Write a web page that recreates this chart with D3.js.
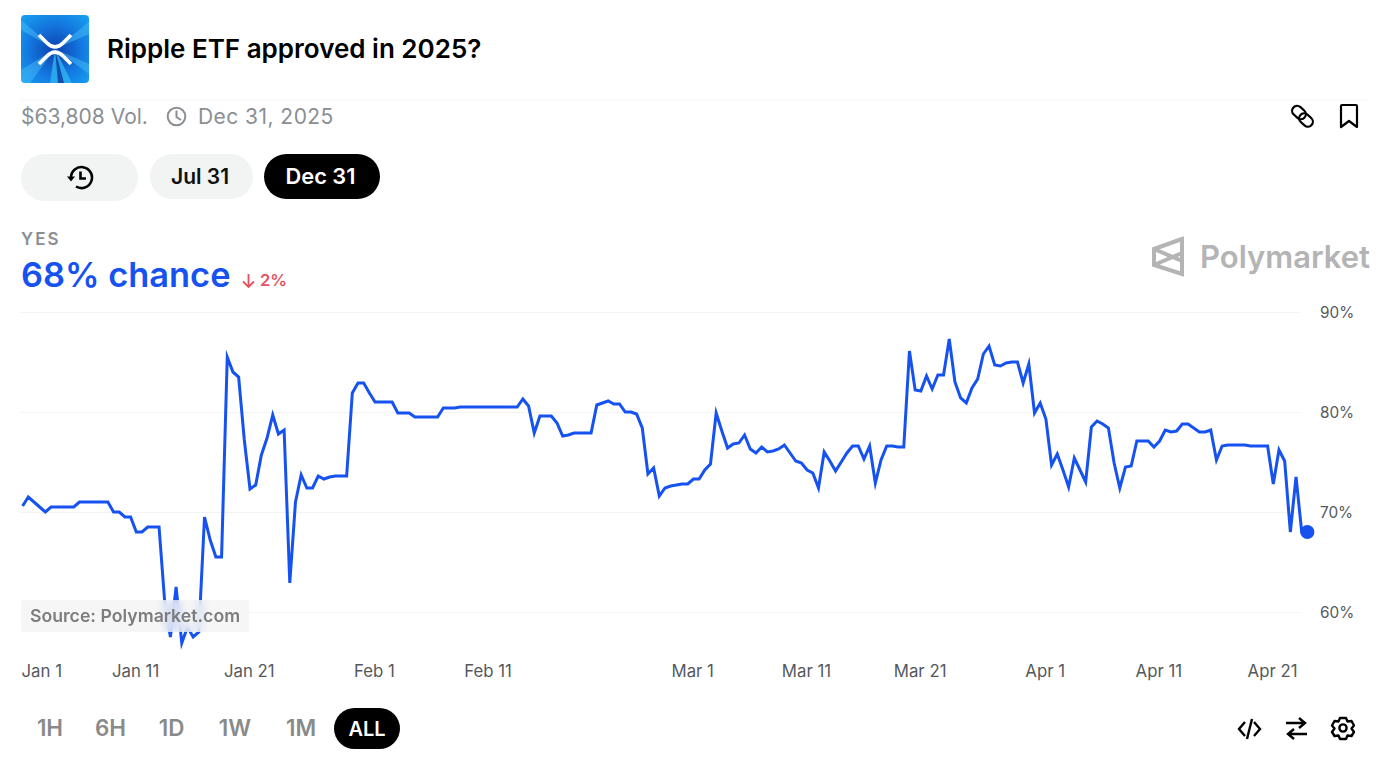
<!DOCTYPE html>
<html>
<head>
<meta charset="utf-8">
<title>Ripple ETF approved in 2025?</title>
<script src="https://cdn.jsdelivr.net/npm/d3@7"></script>
<style>
  html, body { margin: 0; padding: 0; background: #fff; overflow: hidden; }
  #chartDiv { position: relative; width: 1400px; height: 760px; font-family: Inter, sans-serif; }
  svg { position: absolute; left: 0; top: 0; }
  svg text { font-family: Inter, sans-serif; }
  #source {
    position: absolute; left: 21px; top: 600px; width: 228px; height: 32px; line-height: 32px;
    border-radius: 3px; background: rgba(243,243,243,0.72);
    -webkit-backdrop-filter: blur(4px); backdrop-filter: blur(4px);
    color: #7d7d7d; font-size: 17.7px; font-weight: 600; text-align: center; white-space: nowrap;
  }
</style>
</head>
<body>
<div id="chartDiv"></div>
<script>
// Values, one every 12 hours starting Jan 1
var startDate = '2025-01-01';
var chance = [
  70.6, 71.5, 71.0, 70.5, 70.0, 70.5, 70.5, 70.5, 70.5, 70.5,
  71.0, 71.0, 71.0, 71.0, 71.0, 71.0, 70.0, 70.0, 69.5, 69.5,
  68.0, 68.0, 68.5, 68.5, 68.5, 61.0, 57.5, 62.5, 56.9, 58.5,
  57.5, 58.0, 69.5, 67.2, 65.5, 65.5, 85.5, 84.0, 83.5, 77.2,
  72.3, 72.7, 75.7, 77.4, 79.7, 77.8, 78.2, 62.9, 71.0, 73.7,
  72.4, 72.4, 73.6, 73.3, 73.5, 73.6, 73.6, 73.6, 81.9, 82.9,
  82.9, 81.9, 81.0, 81.0, 81.0, 81.0, 79.9, 79.9, 79.9, 79.5,
  79.5, 79.5, 79.5, 79.5, 80.4, 80.4, 80.4, 80.5, 80.5, 80.5,
  80.5, 80.5, 80.5, 80.5, 80.5, 80.5, 80.5, 80.5, 81.3, 80.6,
  77.9, 79.6, 79.6, 79.6, 78.9, 77.6, 77.7, 77.9, 77.9, 77.9,
  77.9, 80.7, 80.9, 81.1, 80.8, 80.8, 80.0, 80.0, 79.8, 78.4,
  73.8, 74.4, 71.6, 72.4, 72.6, 72.7, 72.8, 72.8, 73.3, 73.3,
  74.2, 74.8, 79.9, 78.1, 76.4, 76.8, 76.9, 77.7, 76.3, 75.9,
  76.5, 76.0, 76.1, 76.3, 76.7, 75.9, 75.1, 74.9, 74.2, 73.9,
  72.4, 76.0, 75.1, 74.1, 75.0, 75.9, 76.6, 76.6, 75.3, 76.6,
  72.9, 75.2, 76.6, 76.6, 76.5, 76.5, 86.1, 82.2, 82.1, 83.6,
  82.3, 83.7, 83.7, 87.3, 83.0, 81.4, 80.9, 82.4, 83.3, 85.8,
  86.6, 84.7, 84.6, 84.9, 85.0, 85.0, 82.9, 84.8, 79.9, 80.9,
  79.3, 74.7, 75.8, 74.2, 72.5, 75.4, 74.2, 73.0, 78.5, 79.1,
  78.8, 78.4, 74.9, 72.4, 74.5, 74.6, 77.1, 77.1, 77.1, 76.5,
  77.1, 78.2, 78.0, 78.1, 78.8, 78.8, 78.4, 78.0, 78.0, 78.2,
  75.2, 76.6, 76.7, 76.7, 76.7, 76.7, 76.6, 76.6, 76.6, 76.6,
  72.8, 76.2, 75.1, 68.0, 73.5, 68.0, 68.0
];
var yTicks = [60, 70, 80, 90];
var xTickDates = ['2025-01-01', '2025-01-11', '2025-01-21', '2025-02-01', '2025-02-11',
                  '2025-03-01', '2025-03-11', '2025-03-21', '2025-04-01', '2025-04-11', '2025-04-21'];
var rangeLabels = ['1H', '6H', '1D', '1W', '1M', 'ALL'];
var rangeCenters = [50, 110.5, 171.5, 235, 301, 367];

var blue = '#1652f0';
var gray = '#8a8f94';
var parseDay = d3.utcParse('%Y-%m-%d');
var start = parseDay(startDate);
var dataset = chance.map(function(v, i) {
  return { date: d3.utcHour.offset(start, i * 12), value: v };
});

var chart = d3.select('#chartDiv');
var svg = chart.append('svg').attr('width', 1400).attr('height', 760);
var defs = svg.append('defs');

// Scales
var x = d3.scaleUtc()
  .domain([start, dataset[dataset.length - 1].date])
  .range([22.6, 1307.4]);
var y = d3.scaleLinear().domain([60, 90]).range([612, 312]);

// Header icon
var grad = defs.append('radialGradient').attr('id', 'iconBg')
  .attr('cx', '50%').attr('cy', '52%').attr('r', '72%');
grad.append('stop').attr('offset', '0%').attr('stop-color', '#0d3fae');
grad.append('stop').attr('offset', '55%').attr('stop-color', '#1379e0');
grad.append('stop').attr('offset', '100%').attr('stop-color', '#17a3f2');
defs.append('clipPath').attr('id', 'iconClip').append('rect')
  .attr('x', 21).attr('y', 15).attr('width', 68).attr('height', 68).attr('rx', 4);
var icon = svg.append('g').attr('clip-path', 'url(#iconClip)');
icon.append('rect').attr('x', 21).attr('y', 15).attr('width', 68).attr('height', 68).attr('fill', 'url(#iconBg)');
icon.append('path').attr('d', 'M55 49L21 30V20ZM55 49L89 22V34ZM55 49L89 64V74ZM55 49L30 83H21V70Z')
  .attr('fill', '#4cc3fa').attr('opacity', 0.45);
icon.append('path').attr('d', 'M55 49L50 83H72Z').attr('fill', '#2fb4f0').attr('opacity', 0.8);
icon.append('path').attr('d', 'M55 49L58 83H64Z').attr('fill', '#0c3a9e').attr('opacity', 0.8);
icon.append('path')
  .attr('d', 'M39 35L47 43Q55 51 63 43L71 35M39 64L47 56Q55 48 63 56L71 64')
  .attr('fill', 'none').attr('stroke', '#fff').attr('stroke-width', 3.6);

// Header text
svg.append('text').attr('x', 107).attr('y', 58)
  .attr('font-size', 26).attr('font-weight', 600).attr('fill', '#000')
  .text('Ripple ETF approved in 2025?');
svg.append('line').attr('x1', 21).attr('x2', 1369).attr('y1', 100).attr('y2', 100)
  .attr('stroke', '#f4f4f4');
svg.append('text').attr('x', 21).attr('y', 124).attr('font-size', 21).attr('fill', gray)
  .text('$63,808 Vol.');
svg.append('circle').attr('cx', 176.5).attr('cy', 116.5).attr('r', 8.8)
  .attr('fill', 'none').attr('stroke', gray).attr('stroke-width', 2);
svg.append('path').attr('d', 'M176.5 110.5V117L181 120').attr('fill', 'none')
  .attr('stroke', gray).attr('stroke-width', 2);
svg.append('text').attr('x', 198).attr('y', 124).attr('font-size', 21).attr('letter-spacing', 0.45).attr('fill', gray)
  .text('Dec 31, 2025');

// Link and bookmark icons
svg.append('g').attr('fill', 'none').attr('stroke', '#000').attr('stroke-width', 2.2)
  .attr('stroke-linejoin', 'round')
  .call(function(g) {
    g.append('rect').attr('x', 1291.5).attr('y', 107.5).attr('width', 15).attr('height', 10).attr('rx', 5)
      .attr('transform', 'rotate(42 1299 112.5)');
    g.append('rect').attr('x', 1298.5).attr('y', 115).attr('width', 15).attr('height', 10).attr('rx', 5)
      .attr('transform', 'rotate(42 1306 120)');
    g.append('path').attr('d', 'M1341 106Q1341 105 1342 105H1356Q1357 105 1357 106V127L1349 121L1341 127Z');
  });

// Pills
var pills = [
  { x: 21, y: 154, w: 117, h: 47, fill: '#f2f3f3', color: '#000', label: '', size: 21 },
  { x: 150, y: 154, w: 103, h: 45, fill: '#f2f3f3', color: '#111', label: 'Jul 31', size: 21 },
  { x: 264, y: 154, w: 116, h: 45, fill: '#000', color: '#fff', label: 'Dec 31', size: 21.8 }
];
svg.selectAll('rect.pill').data(pills).enter().append('rect').attr('class', 'pill')
  .attr('x', function(d) { return d.x; }).attr('y', function(d) { return d.y; })
  .attr('width', function(d) { return d.w; }).attr('height', function(d) { return d.h; })
  .attr('rx', function(d) { return d.h / 2; }).attr('fill', function(d) { return d.fill; });
svg.selectAll('text.pill').data(pills).enter().append('text').attr('class', 'pill')
  .attr('x', function(d) { return d.x + d.w / 2 - 1.5; }).attr('y', 184)
  .attr('text-anchor', 'middle').attr('font-size', function(d) { return d.size; }).attr('font-weight', 600)
  .attr('fill', function(d) { return d.color; })
  .text(function(d) { return d.label; });
svg.append('path')
  .attr('d', 'M71 178A10.5 10.5 0 1 1 76 186.5M80.5 171.5V178.5L86 178.5')
  .attr('fill', 'none').attr('stroke', '#000').attr('stroke-width', 2.6);
svg.append('path').attr('d', 'M67 176.5H75L71 181.5Z').attr('fill', '#000');

// Probability heading
svg.append('text').attr('x', 21).attr('y', 245).attr('font-size', 17).attr('font-weight', 600)
  .attr('letter-spacing', 2).attr('fill', gray).text('YES');
svg.append('text').attr('x', 21).attr('y', 287).attr('font-size', 34.4).attr('font-weight', 600)
  .attr('fill', blue).text('68% chance');
svg.append('path').attr('d', 'M248.5 274V287M243 281.5L248.5 287L254 281.5')
  .attr('fill', 'none').attr('stroke', '#e5525f').attr('stroke-width', 1.8);
svg.append('text').attr('x', 260).attr('y', 286).attr('font-size', 16.6).attr('font-weight', 600)
  .attr('fill', '#e5525f').text('2%');

// Polymarket watermark
svg.append('path')
  .attr('d', 'M1182 239L1154 249V265L1182 274ZM1154 249L1182 261M1154 265L1182 253')
  .attr('fill', 'none').attr('stroke', '#b4b4b4').attr('stroke-width', 4).attr('stroke-linejoin', 'miter');
svg.append('text').attr('x', 1200).attr('y', 268).attr('font-size', 31).attr('font-weight', 600)
  .attr('fill', '#b4b4b4').text('Polymarket');

// Y axis: gridlines and labels
var yAxis = d3.axisRight(y).tickValues(yTicks).tickSize(1279)
  .tickFormat(function(d) { return d + '%'; });
var yG = svg.append('g').attr('transform', 'translate(21,0)').call(yAxis);
yG.select('.domain').remove();
yG.selectAll('line').attr('stroke', '#f3f3f3');
yG.selectAll('text').attr('x', 1299).attr('dy', '0.34em').attr('font-size', 15.3)
  .attr('font-family', 'Inter, sans-serif').attr('fill', '#55595e');

// X axis
var xAxis = d3.axisBottom(x).tickValues(xTickDates.map(parseDay)).tickSize(0)
  .tickFormat(function(d) {
    return d3.utcFormat('%b ')(d) + d.getUTCDate();
  });
var xG = svg.append('g').attr('transform', 'translate(0,663.5)').call(xAxis);
xG.select('.domain').remove();
xG.selectAll('text').attr('y', 0).attr('x', -1.2).attr('dy', '0.8em').attr('font-size', 16.8)
  .attr('font-family', 'Inter, sans-serif').attr('fill', '#55595e');
// the first label is pushed in to stay on the page
xG.select('.tick text').attr('text-anchor', 'start').attr('x', -1.6);

// Line and end dot
var line = d3.line()
  .x(function(d) { return x(d.date); })
  .y(function(d) { return y(d.value); });
svg.append('path').datum(dataset).attr('d', line)
  .attr('fill', 'none').attr('stroke', blue).attr('stroke-width', 3)
  .attr('stroke-linejoin', 'miter').attr('stroke-miterlimit', 6);
var last = dataset[dataset.length - 1];
svg.append('circle').attr('cx', x(last.date)).attr('cy', y(last.value)).attr('r', 7).attr('fill', blue);

// Range selector
svg.append('rect').attr('x', 334).attr('y', 708).attr('width', 66).attr('height', 41).attr('rx', 20.5).attr('fill', '#000');
svg.selectAll('text.range').data(rangeLabels).enter().append('text').attr('class', 'range')
  .attr('x', function(d, i) { return rangeCenters[i]; }).attr('y', 736)
  .attr('text-anchor', 'middle').attr('font-size', function(d) { return d === 'ALL' ? 20 : 22.4; }).attr('font-weight', 600)
  .attr('fill', function(d) { return d === 'ALL' ? '#fff' : '#8a8a8a'; })
  .text(function(d) { return d; });

// Bottom right icons
svg.append('g').attr('fill', 'none').attr('stroke', '#000').attr('stroke-width', 2.4)
  .call(function(g) {
    g.append('path').attr('d', 'M1245 722L1239 729L1245 736M1254 722L1260 729L1254 736M1252 719L1247 739');
    g.append('path').attr('d', 'M1286 723H1305M1299 718L1305 723L1299 728M1307 734H1288M1294 729L1288 734L1294 739');
    g.append('circle').attr('cx', 1343).attr('cy', 728).attr('r', 3.6);
    g.append('path').attr('d', 'M1340 718H1346L1347.5 721.5L1351.5 721L1354 725.5L1351.5 728.5L1354 732L1351.5 736L1347.5 735.5L1346 739H1340L1338.5 735.5L1334.5 736L1332 732L1334.5 728.5L1332 725.5L1334.5 721L1338.5 721.5Z')
      .attr('stroke-linejoin', 'round');
  });

// Source badge sits over the line and blurs it
chart.append('div').attr('id', 'source').text('Source: Polymarket.com');
</script>
</body>
</html>
